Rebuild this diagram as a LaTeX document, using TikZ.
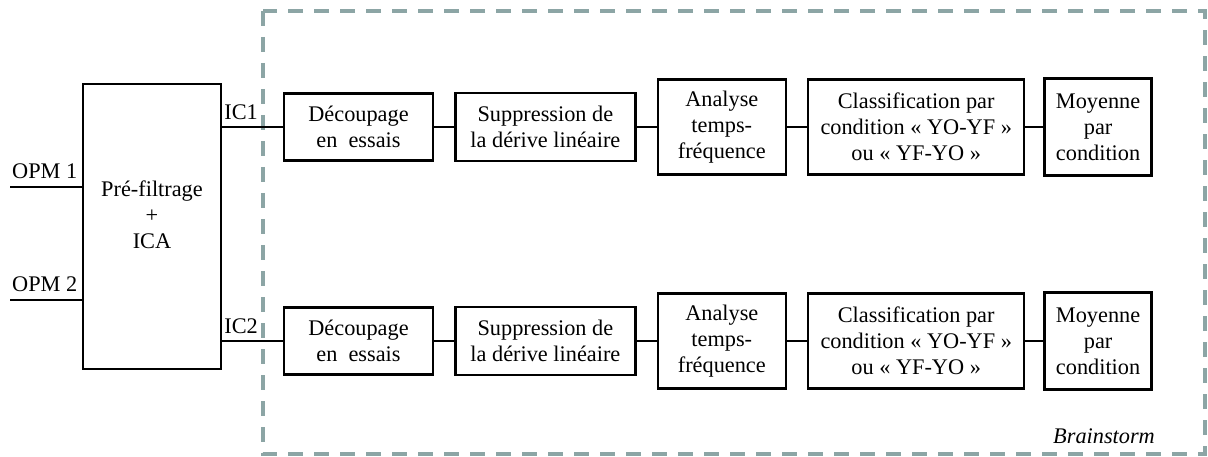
\documentclass[tikz,border=0pt]{standalone}
\usepackage{fontspec}
\setmainfont{Liberation Serif}
\usetikzlibrary{positioning}

\begin{document}
\begin{tikzpicture}[
	font=\fontsize{22.3}{26}\selectfont,
	blk/.style={draw=black, line width=2.4pt, align=center, inner sep=3pt, fill=white},
	link/.style={line width=2.4pt, black},
	lbl/.style={inner sep=0pt},
	frame/.style={draw={rgb,255:red,140;green,165;blue,165}, line width=3.2pt,
		dash pattern=on 15pt off 11pt},
	node distance=20pt,
]
\useasboundingbox (0,0) rectangle (1208pt,-457pt);

% ---- brainstorm frame ----
\draw[frame] (263pt,-11pt) rectangle (1205pt,-454pt);
\node[lbl, anchor=base east, font=\fontsize{22.3}{26}\selectfont\itshape] (bs) at (1155pt,-443pt) {Brainstorm};

% ---- pre-processing block ----
\node[blk, minimum width=138pt, minimum height=285pt] (pre) at (152pt,-226.5pt) {};
\node[lbl, align=center] (pretxt) at ([yshift=12pt]pre.center) {Pré-filtrage\\+\\ICA};

\coordinate (in1) at (10pt,-187pt);
\coordinate (in2) at (10pt,-300pt);
\draw[link] (in1) -- (in1 -| pre.west);
\draw[link] (in2) -- (in2 -| pre.west);
\node[lbl, anchor=south west] (opm1) at ([xshift=2pt,yshift=8pt]in1) {OPM 1};
\node[lbl, anchor=south west] (opm2) at ([xshift=2pt,yshift=8pt]in2) {OPM 2};

% ---- first row (IC1) ----
\node[blk, minimum width=149pt, minimum height=67pt] (dec1) at (358.5pt,-127pt) {Découpage\\en~ essais};
\node[blk, minimum width=180pt, minimum height=68pt, right=of dec1] (sup1) {Suppression de\\la dérive linéaire};
\node[blk, minimum width=128pt, minimum height=95pt, right=of sup1] (ana1) {Analyse\\temps-\\fréquence};
\node[blk, minimum width=216pt, minimum height=95pt, right=of ana1] (cls1) {Classification par\\condition « YO-YF »\\ou « YF-YO »};
\node[blk, minimum width=107pt, minimum height=97pt, right=18pt of cls1] (moy1) {Moyenne\\par\\condition};

\draw[link] (dec1.west -| pre.east) -- (dec1.west);
\node[lbl, anchor=south west] (ic1) at ([xshift=2pt,yshift=7pt]dec1.west -| pre.east) {IC1};
\draw[link] (dec1) -- (sup1);
\draw[link] (sup1) -- (ana1);
\draw[link] (ana1) -- (cls1);
\draw[link] (cls1) -- (moy1);

% ---- second row (IC2) ----
\node[blk, minimum width=149pt, minimum height=67pt] (dec2) at (358.5pt,-341pt) {Découpage\\en~ essais};
\node[blk, minimum width=180pt, minimum height=68pt, right=of dec2] (sup2) {Suppression de\\la dérive linéaire};
\node[blk, minimum width=128pt, minimum height=95pt, right=of sup2] (ana2) {Analyse\\temps-\\fréquence};
\node[blk, minimum width=216pt, minimum height=95pt, right=of ana2] (cls2) {Classification par\\condition « YO-YF »\\ou « YF-YO »};
\node[blk, minimum width=107pt, minimum height=97pt, right=18pt of cls2] (moy2) {Moyenne\\par\\condition};

\draw[link] (dec2.west -| pre.east) -- (dec2.west);
\node[lbl, anchor=south west] (ic2) at ([xshift=2pt,yshift=7pt]dec2.west -| pre.east) {IC2};
\draw[link] (dec2) -- (sup2);
\draw[link] (sup2) -- (ana2);
\draw[link] (ana2) -- (cls2);
\draw[link] (cls2) -- (moy2);

\end{tikzpicture}
\end{document}
